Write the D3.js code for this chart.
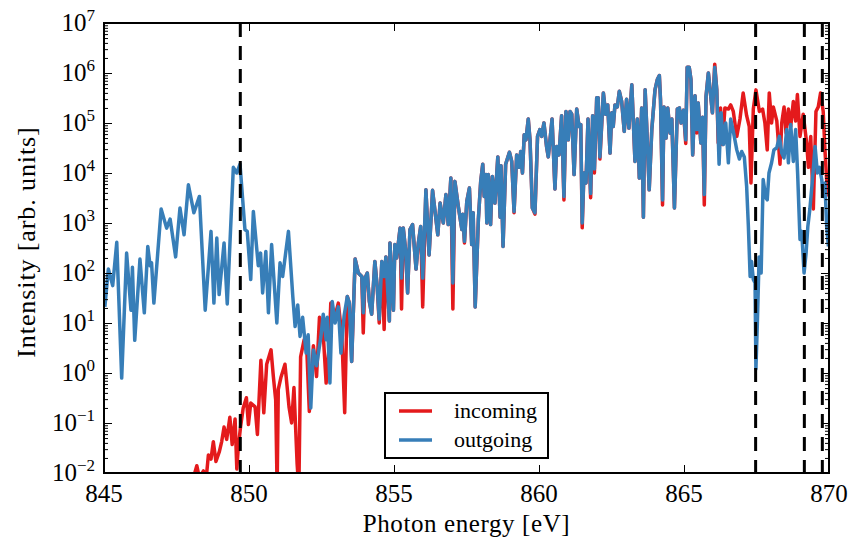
<!DOCTYPE html>
<html>
<head>
<meta charset="utf-8">
<script src="https://cdn.jsdelivr.net/npm/d3@7"></script>
<style>
body { margin: 0; background: #fff; }
text { font-family: "Liberation Serif", "DejaVu Serif", serif; fill: #000; }
</style>
</head>
<body>
<script>
// [photon energy (eV), intensity]
var outgoing = [
[845.03,2.1e1],[845.15,1.2e2],[845.30,5.6e1],[845.44,4.1e2],[845.61,7.9e-1],[845.78,2.5e2],[845.93,1.8e1],[845.98,1.3e2],
[846.06,4.5],[846.24,1.9e2],[846.39,1.6e1],[846.51,3.4e2],[846.59,1.4e2],[846.64,1.6e2],[846.72,2.5e1],[846.97,1.9e3],
[847.16,7.9e2],[847.28,1.2e3],[847.47,2.1e2],[847.62,2.0e3],[847.76,5.8e2],[847.91,5.8e3],[848.10,1.6e3],[848.29,3.4e3],
[848.49,1.8e1],[848.69,6.8e2],[848.79,2.5e1],[848.89,5.0e2],[848.97,3.7e1],[849.06,1.3e2],[849.14,4.0e2],[849.25,2.4e1],
[849.46,1.3e4],[849.58,1.0e4],[849.69,1.5e4],[849.86,7.4e2],[849.94,6.8e2],[850.06,7.4e1],[850.15,1.7e3],[850.32,1.4e2],
[850.40,2.5e2],[850.47,4.0e1],[850.58,2.7e2],[850.67,1.6e1],[850.78,3.7e2],[850.96,1.0e1],[851.07,1.6e2],[851.16,8.5e1],
[851.36,6.8e2],[851.51,3.4e1],[851.59,8.5],[851.68,2.3e1],[851.76,5.4],[851.85,1.3e1],[851.97,2.5],[852.04,5.8],
[852.13,2.0e-1],[852.22,2.9],[852.33,1.4],[852.48,5.4],[852.56,1.5e1],[852.66,4.6],[852.70,1.3e1],[852.79,6.3e-1],
[852.87,2.7e1],[852.97,1.0e1],[853.08,2.1e1],[853.17,2.5],[853.28,1.4e1],
[853.39,3.4e1],[853.46,2.5e1],[853.54,1.7],[853.66,1.9e2],[853.77,1.0e2],[853.89,8.5e1],[853.94,1.6e1],[854.00,7.9e1],
[854.08,1.0e2],[854.15,2.7e1],[854.23,1.5e1],[854.34,1.7e2],[854.42,5.4e1],[854.49,1.2e1],[854.58,1.7e2],[854.66,8.5e1],
[854.72,2.1e2],[854.84,1.1e1],[854.86,4.0e2],[854.98,1.8e1],[855.03,3.7e2],[855.09,2.0e2],[855.21,7.9e2],[855.26,7.9e1],
[855.32,7.9e2],[855.40,2.9e2],[855.47,4.0e1],[855.55,7.4e2],[855.64,9.3e2],[855.76,1.2e2],[855.84,4.0e2],[855.92,8.5e2],
[855.99,7.9e1],[856.10,4.6e3],[856.21,2.3e2],[856.33,4.5e3],[856.51,5.8e2],[856.59,2.5e3],[856.70,1.0e3],[856.79,3.7e3],
[856.87,9.3e2],[856.96,7.9e3],[857.03,6.3e1],[857.10,6.8e3],[857.22,2.1e3],[857.34,7.4e2],[857.37,1.5e3],[857.43,4.3e2],
[857.51,2.7e3],[857.60,5.0e3],[857.68,3.7e2],[857.73,1.6e3],[857.80,2.1e1],[857.91,1.2e3],[857.99,6.8e3],[858.06,1.5e4],
[858.11,3.4e3],[858.17,9.3e3],[858.20,1.0e3],[858.25,9.3e3],[858.33,9.3e2],[858.39,8.5e3],[858.48,2.5e3],[858.58,2.1e4],
[858.66,1.3e3],[858.69,1.4e4],[858.76,3.4e2],[858.85,1.5e4],[858.98,2.6e4],[859.06,1.7e4],[859.14,1.7e3],[859.23,2.3e4],
[859.31,1.3e4],[859.37,2.7e4],[859.43,1.0e4],[859.49,5.8e4],[859.55,4.6e4],[859.63,1.2e5],[859.69,4.6e4],[859.77,2.0e3],
[859.86,1.6e3],[859.95,5.4e4],[860.03,7.4e4],[860.09,5.4e4],[860.17,1.0e5],[860.26,3.4e4],[860.32,2.1e4],[860.38,4.6e4],
[860.45,1.2e5],[860.55,4.8e3],[860.61,3.4e4],[860.69,2.3e4],[860.78,1.4e5],[860.86,3.4e3],[860.93,1.7e5],[861.01,4.6e4],
[861.07,1.7e5],[861.13,1.5e5],[861.21,9.3e3],[861.30,1.9e5],[861.38,8.5e4],[861.44,9.3e4],[861.49,1.0e3],[861.55,1.0e4],
[861.62,6.3e3],[861.69,1.2e5],[861.78,3.9e3],[861.85,1.4e5],[861.91,1.2e4],[861.99,3.2e5],[862.04,3.2e5],[862.10,2.1e4],
[862.22,4.0e5],[862.30,1.5e5],[862.37,2.3e5],[862.45,2.5e4],[862.51,1.6e5],[862.56,8.5e4],[862.62,2.3e5],[862.70,2.1e5],
[862.77,4.3e5],[862.85,2.7e5],[862.94,6.8e4],[863.02,3.0e5],[863.10,7.9e4],[863.20,5.8e5],[863.31,1.7e4],[863.39,1.2e5],
[863.46,7.9e3],[863.54,2.0e5],[863.60,1.3e3],[863.66,4.6e5],[863.71,1.0e5],[863.80,4.6e3],[863.89,7.4e4],[864.00,4.6e5],
[864.08,7.4e5],[864.15,8.9e5],[864.19,2.9e5],[864.26,2.9e3],[864.31,2.1e5],[864.38,5.0e4],[864.44,2.0e5],[864.52,6.3e4],
[864.58,1.2e5],[864.67,2.0e3],[864.77,1.9e5],[864.84,2.0e5],[864.90,1.0e5],[864.98,1.8e5],[865.06,4.6e4],[865.11,1.3e6],
[865.18,1.3e6],[865.24,7.4e5],[865.30,2.3e4],[865.38,3.5e5],[865.44,7.4e4],[865.49,2.5e5],[865.58,4.0e4],[865.64,1.3e5],
[865.70,3.7e3],[865.76,3.4e5],[865.84,1.0e6],[865.90,4.6e5],[865.98,1.6e5],[866.06,1.3e6],[866.13,4.6e5],
[866.21,1.5e4],[866.28,1.6e5],[866.36,3.7e4],[866.44,1.0e5],[866.53,1.6e4],[866.61,1.2e5],[866.70,6.8e4],[866.82,2.9e4],
[866.91,1.9e4],[866.99,2.7e4],[867.08,2.1e4],[867.16,5.4e3],[867.22,8.5e2],[867.28,8.5e1],[867.33,1.7e2],[867.39,7.4e1],
[867.45,6.3e1],[867.48,1.2],[867.53,1.0e1],[867.59,2.1e2],[867.66,1.0e2],[867.73,7.4e3],[867.82,3.2e3],[867.87,2.9e3],
[867.93,1.0e4],[868.02,1.6e4],[868.10,2.9e4],[868.20,3.2e4],[868.29,5.4e4],[868.37,2.5e4],[868.45,2.0e4],[868.54,7.4e4],
[868.60,1.6e4],[868.68,9.3e4],[868.77,1.7e4],[868.85,7.4e4],[868.92,9.3e3],[869.00,4.7e2],[869.06,6.8e2],[869.14,1.0e2],
[869.21,2.5e2],[869.27,8.5e2],[869.34,1.9e3],[869.42,6.3e3],[869.52,3.4e4],[869.60,1.0e4],[869.67,1.3e4],[869.75,7.4e3],
[869.80,3.4e3],[869.86,6.3e3],[869.92,8.5e2],[869.98,3.4e2]
];

var incoming = [
[847.97,4.7e-3],[848.20,1.4e-2],[848.29,8.0e-3],[848.43,1.1e-2],[848.52,7.4e-3],[848.60,2.3e-2],[848.69,1.9e-2],[848.77,4.2e-2],
[848.86,1.7e-2],[848.98,2.7e-2],[849.06,4.3e-2],[849.14,8.3e-2],[849.23,4.7e-2],[849.34,1.3e-1],[849.42,3.7e-2],[849.52,1.2e-1],
[849.58,1.2e-2],[849.63,3.2e-2],[849.71,8.5e-2],[849.80,2.0e-1],[849.91,3.2e-1],[849.98,9.3e-2],[850.06,2.5e-1],[850.21,2.1e-1],
[850.29,5.9e-2],[850.41,1.8],[850.51,1.6e-1],[850.61,1.5],[850.76,2.9],[850.84,8.5e-1],[850.92,2.9e-1],[850.97,4.7e-3],
[851.01,4.7e-1],[851.10,8.1e-1],[851.24,1.5],[851.38,2.1e-1],[851.47,1.0e-1],[851.55,5.1e-1],[851.66,1.5e-2],[851.72,4.7e-3],
[851.78,2.1],[851.90,4.6],[851.99,3.2],[852.08,1.7e-1],[852.22,3.5],[852.33,8.5e-1],[852.43,1.3e1],[852.55,7.4],
[852.66,6.3e-1],[852.76,3.2],[852.82,2.5e1],[852.97,1.4e1],[853.08,2.5e1],[853.20,5.8],[853.30,1.6e-1],
[853.39,3.4e1],[853.46,2.5e1],[853.54,1.7],[853.66,1.9e2],[853.77,1.0e2],[853.89,8.5e1],[853.94,6.3],[854.00,7.9e1],
[854.08,1.0e2],[854.15,2.7e1],[854.23,1.5e1],[854.34,1.7e2],[854.42,5.4e1],[854.49,1.0e1],[854.58,1.7e2],[854.66,7.4],
[854.72,2.1e2],[854.84,1.1e1],[854.86,4.0e2],[854.98,1.8e1],[855.03,3.7e2],[855.09,2.0e2],[855.21,7.9e2],[855.26,1.9e1],
[855.32,7.9e2],[855.40,2.9e2],[855.47,4.0e1],[855.55,7.4e2],[855.64,9.3e2],[855.76,1.2e2],[855.84,4.0e2],[855.92,8.5e2],
[855.99,2.1e1],[856.10,4.6e3],[856.21,2.3e2],[856.33,4.5e3],[856.51,5.8e2],[856.59,2.5e3],[856.70,1.0e3],[856.79,3.7e3],
[856.87,9.3e2],[856.96,7.9e3],[857.03,1.9e1],[857.10,6.8e3],[857.22,2.1e3],[857.34,7.4e2],[857.37,1.5e3],[857.43,4.0e2],
[857.51,2.7e3],[857.60,5.0e3],[857.68,3.7e2],[857.73,1.6e3],[857.80,2.1e1],[857.91,1.2e3],[857.99,6.8e3],[858.06,1.5e4],
[858.11,3.4e3],[858.17,9.3e3],[858.20,1.0e3],[858.25,9.3e3],[858.33,9.3e2],[858.39,8.5e3],[858.48,2.5e3],[858.58,2.1e4],
[858.66,1.3e3],[858.69,1.4e4],[858.76,3.4e2],[858.85,1.5e4],[858.98,2.6e4],[859.06,1.7e4],[859.14,1.6e3],[859.23,2.3e4],
[859.31,1.3e4],[859.37,2.7e4],[859.43,1.0e4],[859.49,5.8e4],[859.55,4.6e4],[859.63,1.2e5],[859.69,4.6e4],[859.77,2.0e3],
[859.86,1.5e3],[859.95,5.4e4],[860.03,7.4e4],[860.09,5.4e4],[860.17,1.0e5],[860.26,3.4e4],[860.32,2.1e4],[860.38,4.6e4],
[860.45,1.2e5],[860.55,4.8e3],[860.61,3.4e4],[860.69,2.3e4],[860.78,1.4e5],[860.86,2.9e3],[860.93,1.7e5],[861.01,4.6e4],
[861.07,1.7e5],[861.13,1.5e5],[861.21,9.3e3],[861.30,1.9e5],[861.38,8.5e4],[861.44,9.3e4],[861.49,8.0e2],[861.55,1.0e4],
[861.62,6.3e3],[861.69,1.2e5],[861.78,3.2e3],[861.85,1.4e5],[861.91,1.0e4],[861.99,3.2e5],[862.04,3.2e5],[862.10,1.9e4],
[862.22,4.0e5],[862.30,1.5e5],[862.37,2.3e5],[862.45,2.5e4],[862.51,1.6e5],[862.56,8.5e4],[862.62,2.3e5],[862.70,2.1e5],
[862.77,4.3e5],[862.85,2.7e5],[862.94,6.8e4],[863.02,3.0e5],[863.10,7.9e4],[863.20,5.8e5],[863.31,1.7e4],[863.39,1.2e5],
[863.46,7.9e3],[863.54,2.0e5],[863.60,1.3e3],[863.66,4.6e5],[863.71,1.0e5],[863.80,4.6e3],[863.89,7.4e4],[864.00,4.6e5],
[864.08,7.4e5],[864.15,8.9e5],[864.19,2.9e5],[864.26,2.3e3],[864.31,2.1e5],[864.38,5.0e4],[864.44,2.0e5],[864.52,6.3e4],
[864.58,1.2e5],[864.67,2.0e3],[864.77,1.9e5],[864.84,2.0e5],[864.90,1.0e5],[864.98,1.8e5],[865.06,3.9e4],[865.11,1.3e6],
[865.18,1.3e6],[865.24,7.4e5],[865.30,2.3e4],[865.38,3.5e5],[865.44,6.3e4],[865.49,2.5e5],[865.58,4.0e4],[865.64,1.3e5],
[865.70,2.3e3],[865.76,3.4e5],[865.84,1.0e6],[865.90,4.6e5],[865.98,1.6e5],[866.06,1.5e6],[866.13,4.6e5],
[866.18,4.0e4],[866.26,2.0e5],[866.33,3.7e4],[866.41,2.0e5],[866.53,1.9e5],[866.61,2.3e5],[866.70,1.7e5],[866.82,5.4e4],
[866.93,1.2e5],[867.04,4.0e5],[867.16,1.4e5],[867.25,8.5e4],[867.31,6.3e3],[867.39,1.9e5],[867.48,4.6e5],[867.60,1.7e5],
[867.71,1.9e5],[867.79,1.0e5],[867.87,2.9e4],[867.94,4.0e5],[868.02,1.0e5],[868.08,2.1e5],[868.20,1.1e5],[868.31,1.5e4],
[868.37,1.0e5],[868.45,2.1e5],[868.52,6.3e4],[868.60,1.9e5],[868.68,8.5e4],[868.77,2.7e5],[868.85,1.1e5],[868.91,3.7e5],
[869.00,5.4e4],[869.11,1.5e5],[869.23,4.0e4],[869.29,1.3e4],[869.37,5.4e4],[869.46,1.9e3],[869.55,1.7e5],[869.63,2.1e5],
[869.71,4.0e5],[869.80,1.7e5],[869.86,2.9e4],[869.94,4.6e3],[870.00,3.4e3]
];

var edgeEnergies = [849.7, 867.47, 869.15, 869.77];
var xTicks = [845, 850, 855, 860, 865, 870];
var yExponents = [-2, -1, 0, 1, 2, 3, 4, 5, 6, 7];
var seriesNames = ["incoming", "outgoing"];
var seriesColors = ["#e41a1c", "#377eb8"];

var W = 849, H = 542;
var pLeft = 104, pRight = 829, pTop = 23, pBottom = 473;

var svg = d3.select("body").append("svg")
	.attr("width", W).attr("height", H);

var x = d3.scaleLinear().domain([845, 870]).range([pLeft, pRight]);
var y = d3.scaleLog().domain([1e-2, 1e7]).range([pBottom, pTop]);

svg.append("clipPath").attr("id", "plotclip")
	.append("rect")
	.attr("x", pLeft).attr("y", pTop)
	.attr("width", pRight - pLeft).attr("height", pBottom - pTop);

var line = d3.line()
	.x(d => x(d[0]))
	.y(d => y(d[1]));

var plot = svg.append("g").attr("clip-path", "url(#plotclip)");

[incoming, outgoing].forEach(function(s, i) {
	plot.append("path")
		.datum(s)
		.attr("d", line)
		.attr("fill", "none")
		.attr("stroke", seriesColors[i])
		.attr("stroke-width", 3.5)
		.attr("stroke-linejoin", "round");
});

// vertical dashed lines
plot.selectAll("line.edge")
	.data(edgeEnergies).enter().append("line")
	.attr("class", "edge")
	.attr("x1", d => x(d)).attr("x2", d => x(d))
	.attr("y1", pTop).attr("y2", pBottom)
	.attr("stroke", "#000")
	.attr("stroke-width", 3)
	.attr("stroke-dasharray", "14,9");

// ticks (inward, all four sides)
var majorY = yExponents.map(e => Math.pow(10, e));
var minorY = [];
yExponents.slice(0, -1).forEach(function(e) {
	d3.range(2, 10).forEach(m => minorY.push(m * Math.pow(10, e)));
});

function tickAxis(axis, tx, ty) {
	var g = svg.append("g").attr("transform", "translate(" + tx + "," + ty + ")").call(axis);
	g.select(".domain").remove();
	g.selectAll("text").remove();
	g.selectAll("line").attr("stroke", "#000").attr("stroke-width", 1);
}

tickAxis(d3.axisLeft(y).tickValues(majorY).tickSize(-8), pLeft, 0);
tickAxis(d3.axisLeft(y).tickValues(minorY).tickSize(-4), pLeft, 0);
tickAxis(d3.axisRight(y).tickValues(majorY).tickSize(-8), pRight, 0);
tickAxis(d3.axisRight(y).tickValues(minorY).tickSize(-4), pRight, 0);
tickAxis(d3.axisBottom(x).tickValues(xTicks).tickSize(-8), 0, pBottom);
tickAxis(d3.axisTop(x).tickValues(xTicks).tickSize(-8), 0, pTop);

// frame
svg.append("rect")
	.attr("x", pLeft).attr("y", pTop)
	.attr("width", pRight - pLeft).attr("height", pBottom - pTop)
	.attr("fill", "none")
	.attr("stroke", "#000")
	.attr("stroke-width", 2);

// tick labels
svg.selectAll("text.xtick")
	.data(xTicks).enter().append("text")
	.attr("class", "xtick")
	.attr("x", d => x(d))
	.attr("y", 502)
	.attr("text-anchor", "middle")
	.attr("font-size", 25)
	.text(d => d);

var ylab = svg.selectAll("text.ytick")
	.data(yExponents).enter().append("text")
	.attr("class", "ytick")
	.attr("x", 95)
	.attr("y", d => y(Math.pow(10, d)) + 8)
	.attr("text-anchor", "end")
	.attr("font-size", 25);
ylab.append("tspan").text("10");
ylab.append("tspan")
	.attr("dy", -10)
	.attr("font-size", 17)
	.text(d => d < 0 ? "\u2212" + (-d) : d);

// axis labels
svg.append("text")
	.attr("x", (pLeft + pRight) / 2)
	.attr("y", 532)
	.attr("text-anchor", "middle")
	.attr("font-size", 25)
	.attr("letter-spacing", 0.6)
	.text("Photon energy [eV]");

svg.append("text")
	.attr("transform", "translate(35,242) rotate(-90)")
	.attr("text-anchor", "middle")
	.attr("font-size", 26)
	.attr("letter-spacing", 0.9)
	.text("Intensity [arb. units]");

// legend
var legend = svg.append("g");
legend.append("rect")
	.attr("x", 385).attr("y", 393)
	.attr("width", 163).attr("height", 65)
	.attr("fill", "#fff")
	.attr("stroke", "#000")
	.attr("stroke-width", 2);

seriesNames.forEach(function(name, i) {
	var ly = 411 + i * 29;
	legend.append("line")
		.attr("x1", 399).attr("x2", 432)
		.attr("y1", ly).attr("y2", ly)
		.attr("stroke", seriesColors[i])
		.attr("stroke-width", 3.5);
	legend.append("text")
		.attr("x", 454)
		.attr("y", ly + 7)
		.attr("font-size", 22)
		.text(name);
});
</script>
</body>
</html>
